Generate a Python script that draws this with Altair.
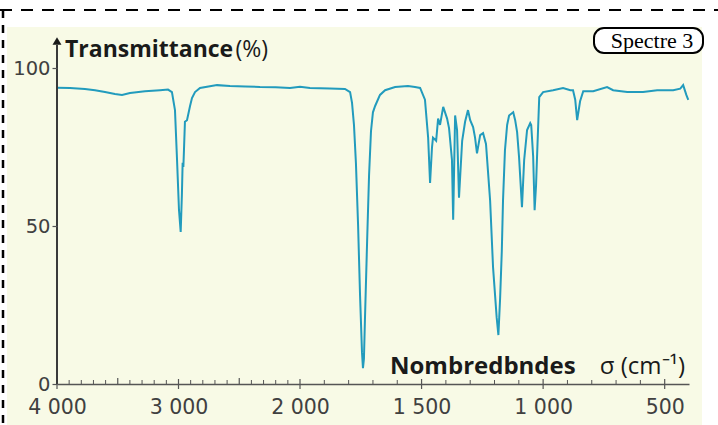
import altair as alt
import pandas as pd

# Spectrum (wavenumber in cm-1, transmittance in %)
sigma = [4000, 3893, 3770, 3687, 3605, 3523, 3465, 3399, 3276, 3152, 3086, 3054, 3029, 3012,
         2996, 2982, 2972, 2966, 2960, 2955, 2947, 2930, 2905, 2889, 2864, 2823, 2683, 2576,
         2450, 2329, 2200, 2082, 2000, 1959, 1877, 1815, 1794, 1786, 1778, 1770, 1761, 1753,
         1745, 1741, 1737, 1733, 1724, 1716, 1708, 1700, 1691, 1671, 1650, 1609, 1556, 1527,
         1506, 1486, 1473, 1465, 1457, 1453, 1440, 1432, 1424, 1411, 1395, 1387, 1375, 1370,
         1362, 1354, 1346, 1333, 1321, 1309, 1300, 1288, 1280, 1272, 1259, 1247, 1235, 1218,
         1206, 1191, 1184, 1177, 1170, 1165, 1157, 1148, 1140, 1123, 1115, 1107, 1099, 1087,
         1078, 1066, 1053, 1049, 1041, 1035, 1029, 1025, 1016, 1000, 959, 918, 888, 877, 868,
         860, 848, 835, 794, 737, 712, 654, 589, 531, 465, 436, 424, 411, 403]
transmittance = [93.8, 93.7, 93.4, 93.0, 92.4, 91.8, 91.5, 92.1, 92.7, 93.0, 93.2, 92.4, 86.7, 70.9,
                 55.1, 48.1, 60.0, 70.0, 68.7, 74.0, 83.0, 83.5, 88.0, 90.5, 92.4, 93.7, 94.6, 94.3,
                 94.2, 94.0, 93.9, 93.7, 94.1, 93.7, 93.5, 93.4, 92.4, 89.0, 82.0, 70.0, 50.0, 28.0,
                 10.0, 5.0, 8.0, 20.0, 45.0, 66.0, 80.0, 86.0, 88.0, 91.5, 93.0, 94.0, 94.3, 94.0,
                 93.7, 90.0, 78.0, 63.6, 75.0, 78.0, 77.0, 84.0, 82.0, 87.7, 84.0, 81.0, 71.0, 52.0,
                 85.0, 80.4, 59.0, 77.0, 83.0, 86.7, 83.5, 81.3, 78.0, 73.0, 78.8, 79.4, 76.0, 58.0,
                 37.0, 21.0, 15.5, 27.0, 42.0, 58.0, 74.0, 82.0, 85.0, 86.0, 83.5, 79.7, 71.8, 56.0,
                 70.9, 80.4, 82.6, 82.0, 72.0, 55.0, 63.0, 72.0, 90.8, 92.4, 93.0, 93.7, 93.0, 93.0, 90.0,
                 83.5, 89.5, 92.7, 92.7, 94.0, 93.0, 92.4, 92.4, 93.0, 93.0, 93.5, 94.6, 91.5, 89.9]

x_labels = [4000, 3000, 2000, 1500, 1000, 500]
mid_ticks = [3500, 2500]
minor_ticks = [v for v in range(500, 4001, 100) if v not in x_labels and v not in mid_ticks]
y_labels = [0, 50, 100]

df = pd.DataFrame({"sigma": sigma, "T": transmittance})

W, H = 633, 357
TEAL = "#229bbd"
CREAM = "#f8fae6"
LABEL = "#404040"

xscale = alt.Scale(domain=[4000, 2000, 400], range=[0, 243, 632], nice=False, zero=False)
yscale = alt.Scale(domain=[0, 113], nice=False, zero=True)

xaxis = alt.Axis(values=x_labels, title=None, grid=False, ticks=False, zindex=1,
                 labelExpr="replace(format(datum.value, ','), ',', ' ')",
                 domainColor="#555555", domainWidth=1.5,
                 labelFont="DejaVu Sans", labelFontSize=20.5, labelColor=LABEL,
                 labelPadding=13, labelFlush=False)
yaxis = alt.Axis(values=y_labels, title=None, grid=False, domain=False, zindex=1,
                 tickSize=5, tickColor="#555555", tickWidth=1.2,
                 labelFont="DejaVu Sans", labelFontSize=19.5, labelColor=LABEL,
                 labelPadding=2)

one = alt.Data(values=[{"a": 1}])

bg = alt.Chart(one).mark_rect(color=CREAM).encode(
    x=alt.value(-50), x2=alt.value(645), y=alt.value(0), y2=alt.value(398))

top_dash = alt.Chart(one).mark_rule(color="black", strokeWidth=2, strokeDash=[12, 9]).encode(
    x=alt.value(-57), x2=alt.value(661), y=alt.value(-17))
left_dash = alt.Chart(one).mark_rule(color="black", strokeWidth=2.5, strokeDash=[8, 7]).encode(
    x=alt.value(-54), y=alt.value(-17), y2=alt.value(398))

line = alt.Chart(df).mark_line(color=TEAL, strokeWidth=2, clip=False).encode(
    x=alt.X("sigma:Q", scale=xscale, axis=xaxis),
    y=alt.Y("T:Q", scale=yscale, axis=yaxis),
    order="sigma:Q",
)

minor = alt.Chart(pd.DataFrame({"sigma": minor_ticks})).mark_rule(color="#555555", strokeWidth=1).encode(
    x=alt.X("sigma:Q", scale=xscale, axis=xaxis), y=alt.value(H), y2=alt.value(H - 4))
mid = alt.Chart(pd.DataFrame({"sigma": mid_ticks})).mark_rule(color="#555555", strokeWidth=1.2).encode(
    x=alt.X("sigma:Q", scale=xscale, axis=xaxis), y=alt.value(H), y2=alt.value(H - 6))
major = alt.Chart(pd.DataFrame({"sigma": x_labels})).mark_rule(color="#555555", strokeWidth=1.2).encode(
    x=alt.X("sigma:Q", scale=xscale, axis=xaxis), y=alt.value(H + 5), y2=alt.value(H - 5))

yaxis_line = alt.Chart(one).mark_rule(color="#3a3a3a", strokeWidth=2).encode(
    x=alt.value(0), y=alt.value(H), y2=alt.value(18))
arrow = alt.Chart(one).mark_point(shape="triangle-up", filled=True, color="#1a1a1a",
                                  size=80, opacity=1).encode(
    x=alt.value(0), y=alt.value(14))

t_title1 = alt.Chart(one).mark_text(align="left", baseline="alphabetic", font="Open Sans",
                                    fontWeight="bold", fontSize=23, color="#1a1a1a").encode(
    x=alt.value(8), y=alt.value(30), text=alt.value("Transmittance"))
t_title2 = alt.Chart(one).mark_text(align="right", baseline="alphabetic", font="Open Sans",
                                    fontSize=23, color="#1a1a1a").encode(
    x=alt.value(211), y=alt.value(30), text=alt.value("(%)"))

x_title1 = alt.Chart(one).mark_text(align="left", baseline="alphabetic", font="Open Sans",
                                    fontWeight="bold", fontSize=24, color="#1a1a1a").encode(
    x=alt.value(333), y=alt.value(347), text=alt.value("Nombredbndes"))
x_title2 = alt.Chart(one).mark_text(align="right", baseline="alphabetic", font="Open Sans",
                                    fontSize=24, color="#1a1a1a").encode(
    x=alt.value(628), y=alt.value(347), text=alt.value("σ (cm⁻¹)"))

box = alt.Chart(one).mark_rect(fill="white", stroke="black", strokeWidth=2, cornerRadius=10).encode(
    x=alt.value(537), x2=alt.value(646), y=alt.value(1), y2=alt.value(26))
box_text = alt.Chart(one).mark_text(font="Liberation Serif", fontSize=22, color="black",
                                    align="center", baseline="middle").encode(
    x=alt.value(595), y=alt.value(14), text=alt.value("Spectre 3"))

chart = alt.layer(
    bg, top_dash, left_dash, minor, mid, major, line, yaxis_line, arrow,
    t_title1, t_title2, x_title1, x_title2, box, box_text
).properties(
    width=W, height=H,
    padding={"left": 57, "top": 27, "right": 28, "bottom": 41},
    autosize=alt.AutoSizeParams(type="none"),
    background="white",
).configure_view(stroke=None)

chart.save("out.html", embed_options={"renderer": "svg", "actions": False})
